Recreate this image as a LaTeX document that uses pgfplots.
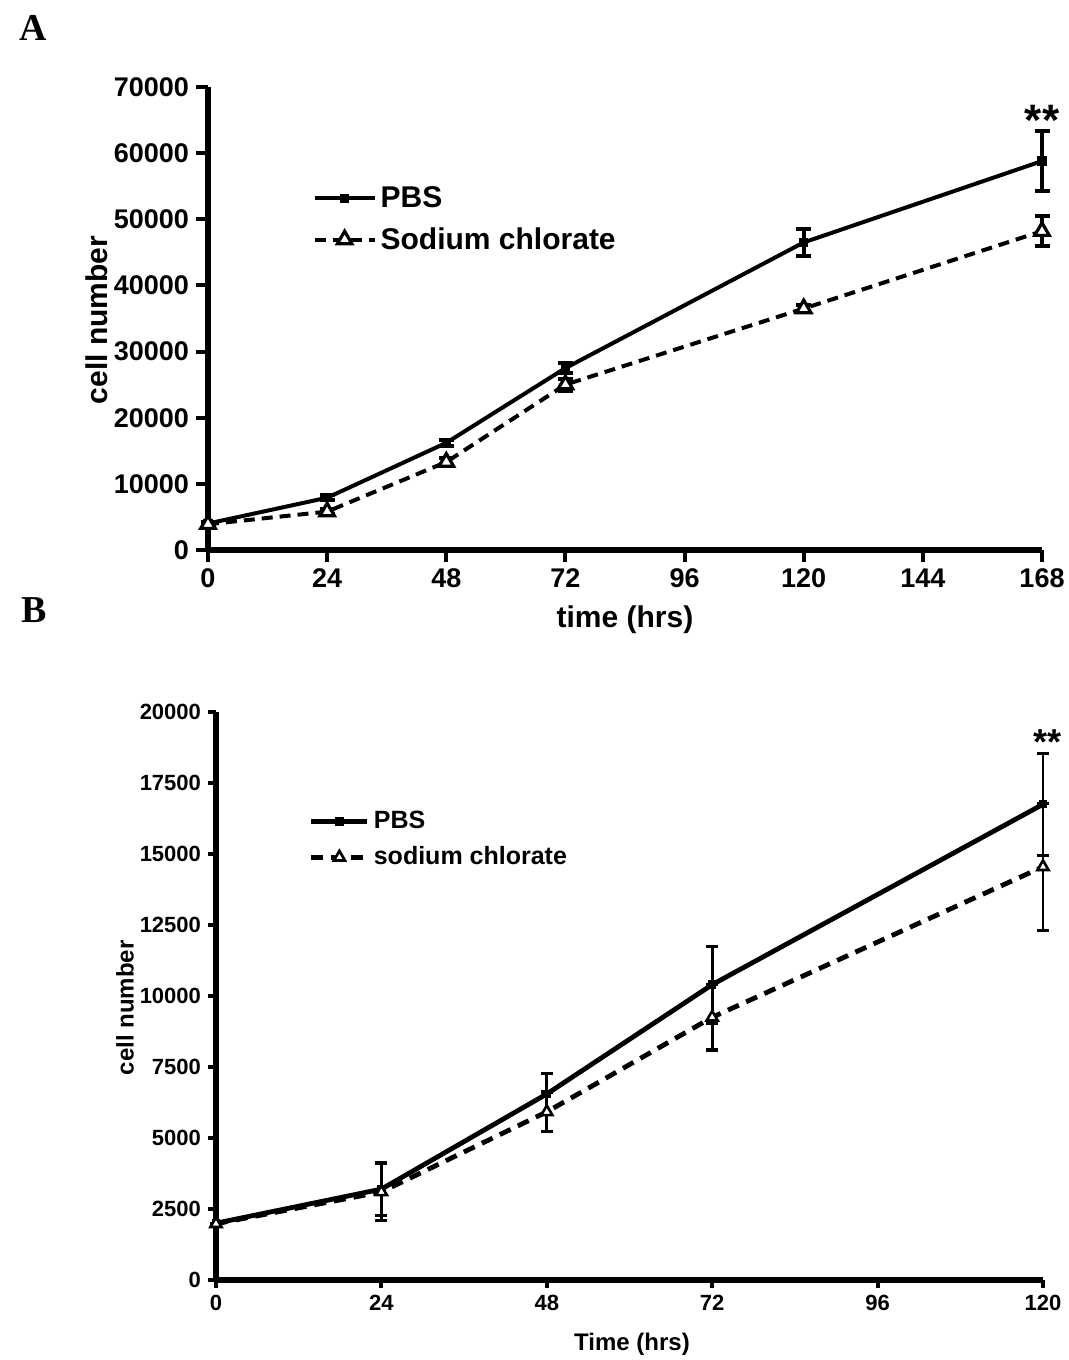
\documentclass[border=0pt]{standalone}
\usepackage{fontspec}
\setmainfont{Liberation Sans}
\newfontfamily\timesfont{Liberation Serif}
\usepackage{pgfplots}
\pgfplotsset{compat=1.18}
\usepackage{pgfplotstable}

\pgfplotstableread{
t y e
0 4000 200
24 7900 400
48 16200 500
72 27500 700
120 46500 2100
168 58800 4500
}\pbsA
\pgfplotstableread{
t y e
0 3900 200
24 5800 400
48 13300 600
72 25000 900
120 36500 500
168 48200 2300
}\sodA
\pgfplotstableread{
t y e
0 2000 0
24 3200 920
48 6550 730
72 10400 1350
120 16750 1800
}\pbsB
\pgfplotstableread{
t y e
0 1980 0
24 3100 1000
48 5920 700
72 9250 1150
120 14550 2230
}\sodB

\begin{document}
\begin{tikzpicture}
\pgfplotsset{
  common/.style={
    scale only axis,
    anchor=south west,
    axis x line=bottom, axis y line=left,
    axis line style={-, line width=2.85pt},
    tick align=outside,
    tick style={black, line width=2pt},
    xtick pos=bottom, ytick pos=left,
    scaled y ticks=false,
    /pgf/number format/assume math mode=true,
    /pgf/number format/1000 sep={},
    clip=false,
    legend cell align=left,
  }
}
% Panel A
\begin{axis}[common,
  at={(104pt,405pt)}, width=417pt, height=231.5pt,
  xmin=0, xmax=168, ymin=0, ymax=70000,
  xtick={0,24,48,72,96,120,144,168},
  ytick={0,10000,20000,30000,40000,50000,60000,70000},
  major tick length=6pt,
  tick label style={font=\bfseries\fontsize{13.5}{16}\selectfont},
  xlabel={time (hrs)}, ylabel={cell number},
  every axis x label/.style={at={(axis description cs:0.5,-0.151)}, anchor=center, font=\bfseries\fontsize{15}{18}\selectfont},
  every axis y label/.style={at={(axis description cs:-0.133,0.497)}, rotate=90, anchor=center, font=\bfseries\fontsize{15}{18}\selectfont},
  legend style={at={(axis description cs:0.125,0.795)}, anchor=north west, draw=none, fill=none,
    font=\bfseries\fontsize{15}{18}\selectfont, row sep=4.5pt, inner sep=0pt},
  legend image code/.code={\draw[mark repeat=2,mark phase=2,#1] plot coordinates {(0pt,0pt)(15pt,0pt)(30pt,0pt)};},
]
\addplot[black, line width=2pt, mark=square*, mark size=1.3pt,
  error bars/.cd, y dir=both, y explicit,
  error bar style={line width=2pt, solid},
  error mark options={rotate=90, mark size=3.75pt, line width=2pt}]
  table[x=t, y=y, y error=e] {\pbsA};
\addlegendentry{PBS}
\addplot[black, line width=2pt, dash pattern=on 5.5pt off 3.5pt,
  mark=triangle*, mark size=4.2pt, mark options={solid, fill=white, line width=1.6pt},
  error bars/.cd, y dir=both, y explicit,
  error bar style={line width=2pt, solid},
  error mark options={rotate=90, mark size=3.75pt, line width=2pt, solid}]
  table[x=t, y=y, y error=e] {\sodA};
\addlegendentry{Sodium chlorate}
\node[font=\bfseries\fontsize{22}{24}\selectfont] at (axis cs:168,64900) {**};
\end{axis}
% Panel B
\begin{axis}[common,
  at={(108pt,40pt)}, width=413.5pt, height=284pt,
  xmin=0, xmax=120, ymin=0, ymax=20000,
  xtick={0,24,48,72,96,120},
  ytick={0,2500,5000,7500,10000,12500,15000,17500,20000},
  major tick length=4pt,
  tick label style={font=\bfseries\fontsize{11}{13}\selectfont},
  xlabel={Time (hrs)}, ylabel={cell number},
  every axis x label/.style={at={(axis description cs:0.503,-0.114)}, anchor=center, font=\bfseries\fontsize{12}{14}\selectfont},
  every axis y label/.style={at={(axis description cs:-0.110,0.479)}, rotate=90, anchor=center, font=\bfseries\fontsize{12}{14}\selectfont},
  legend style={at={(axis description cs:0.112,0.833)}, anchor=north west, draw=none, fill=none,
    font=\bfseries\fontsize{12.5}{15}\selectfont, row sep=3.5pt, inner sep=0pt},
  legend image code/.code={\draw[mark repeat=2,mark phase=2,#1] plot coordinates {(0pt,0pt)(14pt,0pt)(28pt,0pt)};},
]
\addplot[black, line width=2.4pt, mark=square*, mark size=0.9pt,
  error bars/.cd, y dir=both, y explicit,
  error bar style={line width=1.4pt, solid},
  error mark options={rotate=90, mark size=3pt, line width=1.6pt}]
  table[x=t, y=y, y error=e] {\pbsB};
\addlegendentry{PBS}
\addplot[black, line width=2.4pt, dash pattern=on 6pt off 4pt,
  mark=triangle*, mark size=3.2pt, mark options={solid, fill=white, line width=1.3pt},
  error bars/.cd, y dir=both, y explicit,
  error bar style={line width=1.4pt, solid},
  error mark options={rotate=90, mark size=3pt, line width=1.6pt, solid}]
  table[x=t, y=y, y error=e] {\sodB};
\addlegendentry{sodium chlorate}
\node[font=\bfseries\fontsize{18}{20}\selectfont] at (axis cs:120.7,18950) {**};
\end{axis}
\node[font=\timesfont\bfseries\fontsize{19}{22}\selectfont] at (16.5pt,666pt) {A};
\node[font=\timesfont\bfseries\fontsize{19}{22}\selectfont] at (17pt,375pt) {B};
\pgfresetboundingbox
\path[use as bounding box] (0,0) rectangle (534.5pt,680pt);
\end{tikzpicture}
\end{document}
